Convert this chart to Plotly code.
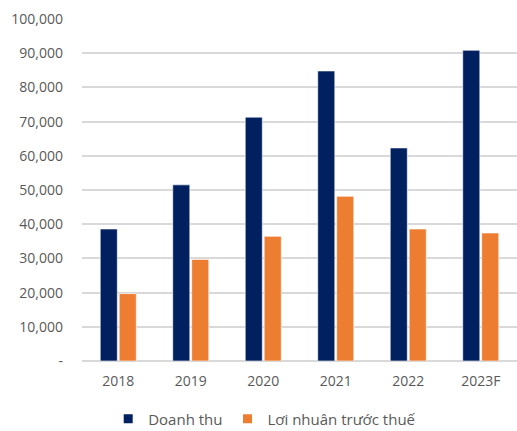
import plotly.graph_objects as go

years = ["2018", "2019", "2020", "2021", "2022", "2023F"]
doanh_thu = [38600, 51500, 71300, 84800, 62300, 90850]
loi_nhuan = [19700, 29700, 36450, 48150, 38600, 37430]
series_names = ["Doanh thu", "Lơi nhuân trước thuế"]
colors = ["#002060", "#ED7D31"]
tick_vals = [0, 10000, 20000, 30000, 40000, 50000, 60000, 70000, 80000, 90000, 100000]
tick_text = ["-", "10,000", "20,000", "30,000", "40,000", "50,000", "60,000",
             "70,000", "80,000", "90,000", "100,000"]

fig = go.Figure()
for name, vals, col in zip(series_names, [doanh_thu, loi_nhuan], colors):
    fig.add_trace(go.Bar(x=years, y=vals, name=name, showlegend=False, legendgroup=name,
                         marker=dict(color=col, line=dict(color="rgba(255,255,255,0.6)", width=1))))
for name, col in zip(series_names, colors):
    fig.add_trace(go.Scatter(x=[years[0]], y=[None], mode="markers", name=name, legendgroup=name,
                             marker=dict(symbol="square", size=9, color=col)))

fig.update_layout(
    width=517, height=431,
    margin=dict(l=82, r=0, t=19, b=0, autoexpand=False),
    paper_bgcolor="white", plot_bgcolor="white",
    font=dict(family="Open Sans", size=14, color="#595959"),
    barmode="group", bargap=0.477, bargroupgap=0.1,
    showlegend=True,
    legend=dict(orientation="h", x=0.42, xanchor="center", y=-0.011, yanchor="bottom",
                font=dict(size=15, color="#595959"), itemwidth=30, traceorder="normal"),
    xaxis=dict(showgrid=False, showline=False, ticks="", tickfont=dict(size=14),
               ticklabelstandoff=10, automargin=False),
    yaxis=dict(domain=[70 / 412, 1], range=[0, 100000], tickvals=tick_vals, ticktext=tick_text,
               showgrid=True, gridcolor="#D9D9D9", gridwidth=1.5, zeroline=True,
               zerolinecolor="#D9D9D9", zerolinewidth=1.5, automargin=False,
               showline=False, ticks="", ticklabelstandoff=18, tickfont=dict(size=14)),
)

fig.write_html("out.html")
